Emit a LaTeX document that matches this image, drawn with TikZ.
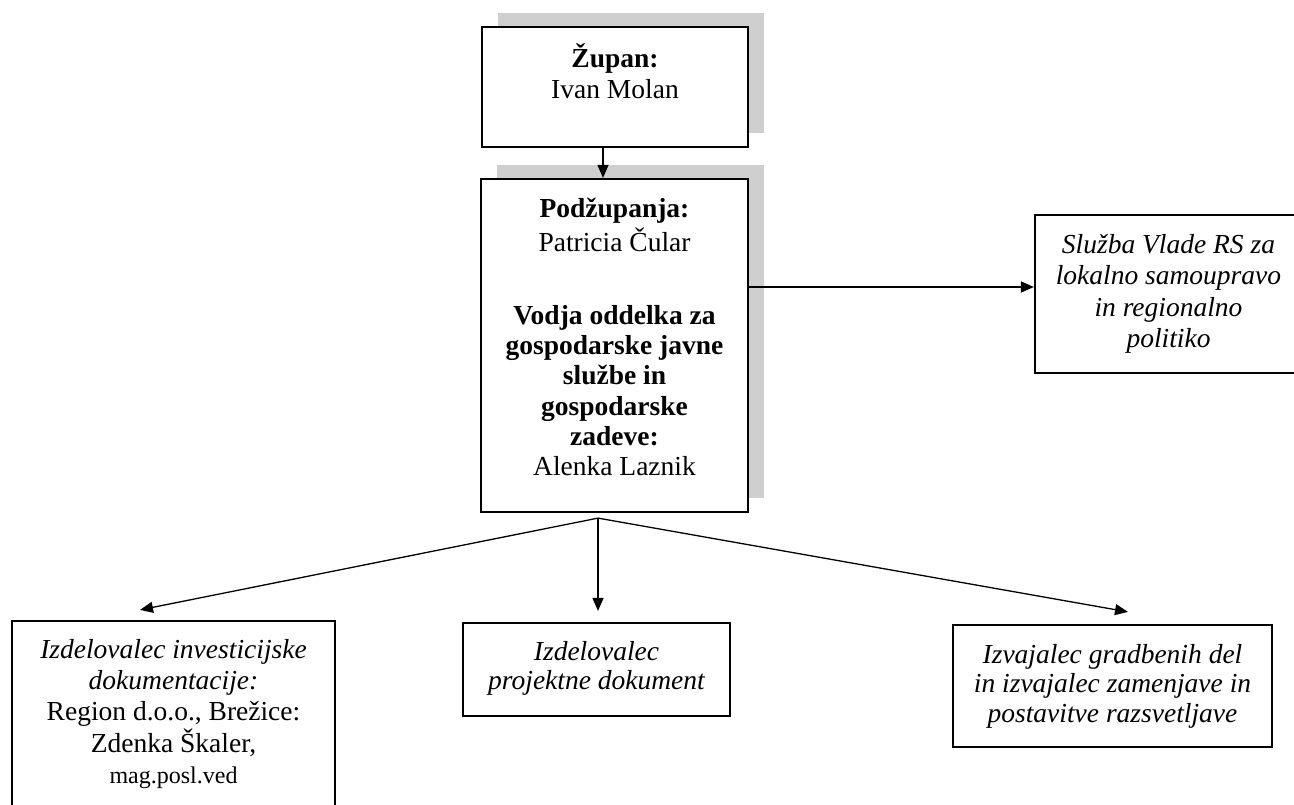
\documentclass[tikz,border=0pt]{standalone}
\usepackage{fontspec}
\setmainfont{Liberation Serif}
\usetikzlibrary{arrows.meta,shadows,calc}
\newcommand\bxt[5]{\parbox[c][#2][t]{#1}{\fontsize{27.5}{#4}\selectfont\centering\vspace*{#3}\strut #5\par}}
\tikzset{
  box/.style={draw, line width=2.2pt, inner sep=0pt, fill=white},
  shad/.style={general shadow={fill=gray!38, shadow xshift=16pt, shadow yshift=14pt}},
  arr/.style={line width=1.3pt, -{Triangle[length=13pt,width=11pt]}},
}
\begin{document}
\begin{tikzpicture}[x=1pt,y=-1pt]
\useasboundingbox (0,0) rectangle (1294,804);
\clip (0,0) rectangle (1294,804);
\fill[white] (0,0) rectangle (1294,804);

\node[box,shad] (zupan) at (615,87)
  {\bxt{266pt}{120pt}{16.6pt}{31pt}{\textbf{Župan:}\\Ivan Molan}};

\node[box,shad] (pod) at (614.5,345.5)
  {\bxt{267pt}{333pt}{17.6pt}{30.3pt}{\textbf{Podžupanja:}\\Patricia Čular\\[42.5pt]
   \textbf{Vodja oddelka za}\\\textbf{gospodarske javne}\\\textbf{službe in}\\\textbf{gospodarske}\\\textbf{zadeve:}\\Alenka Laznik}};

\node[box] (sluzba) at (1168.5,294)
  {\bxt{267pt}{158pt}{16.6pt}{31.3pt}{\itshape Služba Vlade RS za\\lokalno samoupravo\\in regionalno\\politiko}};

\node[box] (left) at (173.5,716)
  {\bxt{323pt}{190pt}{15.6pt}{31.25pt}{\textit{Izdelovalec investicijske}\\\textit{dokumentacije:}\\Region d.o.o., Brežice:\\Zdenka Škaler,\\{\fontsize{24}{31.25}\selectfont mag.posl.ved}}};

\node[box] (mid) at (596.5,669.5)
  {\bxt{267pt}{93pt}{17.6pt}{29pt}{\itshape Izdelovalec\\projektne dokument}};

\node[box] (right) at (1112.5,686)
  {\bxt{319pt}{122pt}{17.4pt}{29.5pt}{\itshape Izvajalec gradbenih del\\in izvajalec zamenjave in\\postavitve razsvetljave}};

% connectors
\draw[arr] ([xshift=-12pt]zupan.south) -- ([xshift=-12pt]zupan.south |- pod.north);
\coordinate (sa) at ([yshift=7pt]sluzba.west);
\draw[arr] (pod.east |- sa) -- (sa);
\coordinate (fan) at ([xshift=-16.5pt,yshift=-5pt]pod.south);
\draw[arr] (fan) -- ([xshift=-33.5pt,yshift=10pt]left.north);
\draw[arr] (fan) -- ([yshift=11pt]fan |- mid.north);
\draw[arr] (fan) -- ([xshift=15.5pt,yshift=12pt]right.north);
\end{tikzpicture}
\end{document}
